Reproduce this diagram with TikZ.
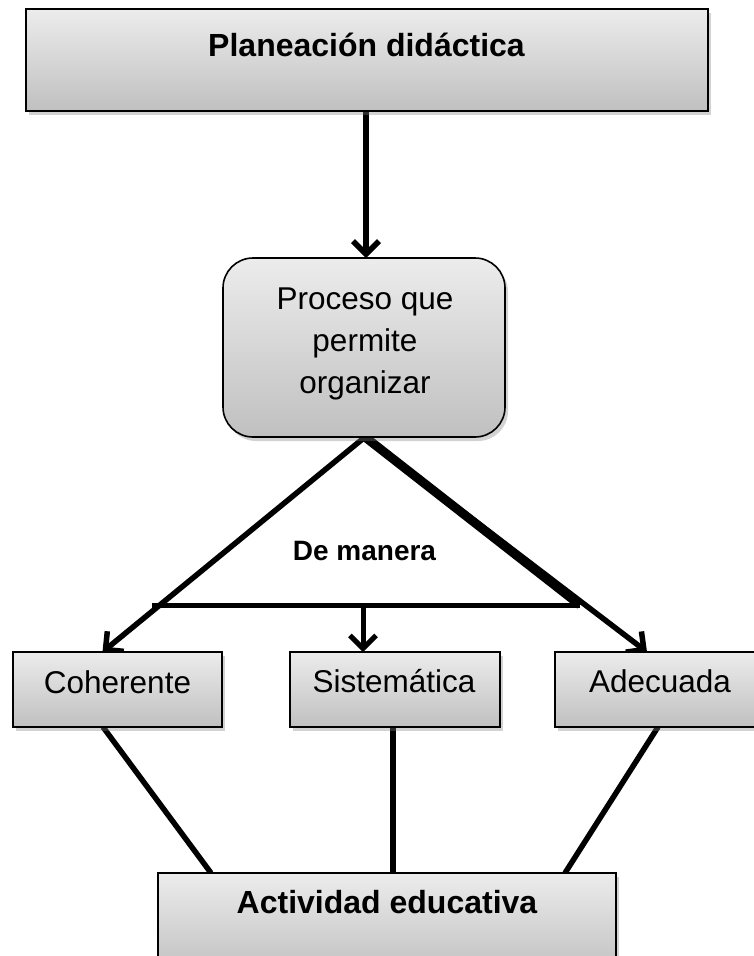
\documentclass[tikz,border=0pt]{standalone}
\usepackage{fontspec}
\setmainfont{Liberation Sans}
\usetikzlibrary{arrows.meta,shadows,calc}
\definecolor{boxtop}{RGB}{236,236,236}
\definecolor{boxbot}{RGB}{192,192,192}
\begin{document}
\begin{tikzpicture}[x=1pt,y=-1pt,
  boxshape/.style={draw=black, line width=1.6pt, top color=boxtop, bottom color=boxbot,
    drop shadow={shadow xshift=3pt, shadow yshift=-4pt, opacity=0.35}, inner sep=0pt},
  lbl/.style={anchor=base, font=\fontsize{31.5}{38}\selectfont, inner sep=0pt},
  blbl/.style={anchor=base, font=\fontsize{32}{38}\selectfont\bfseries, inner sep=0pt},
  conn/.style={line width=5.5pt},
  arr/.style={line width=5.5pt, -{Straight Barb[length=13pt,width=26pt]}}
]
\useasboundingbox (0,0) rectangle (754,956);
\clip (0,0) rectangle (754,956);
\fill[white] (0,0) rectangle (754,956);

\coordinate (ctop) at (367,60);
\coordinate (cproc) at (364,347.5);
\coordinate (apex) at (365,437);
\coordinate (tl) at (152,605);
\coordinate (tr) at (580,605);
\coordinate (mid) at (363,605);
\coordinate (cohN) at (102.5,652);
\coordinate (adeN) at (647,652);
\coordinate (sisN) at (363,652);
\coordinate (topS) at (366,111);
\coordinate (procN) at (366,258);
\coordinate (cohS) at (103,727);
\coordinate (sisS) at (393,727);
\coordinate (adeS) at (658,727);
\coordinate (actA) at (211,873);
\coordinate (actB) at (393,873);
\coordinate (actC) at (565,873);

% connectors
\draw[arr] (topS) -- (procN);
\draw[line width=5pt] (tl) -- (tr);
\draw[line width=9pt] (apex) -- (tr);
\draw[arr] (apex) -- (cohN);
\draw[arr] (apex) -- (adeN);
\draw[arr, line width=5pt] (mid) -- (sisN);
\draw[conn] (cohS) -- (actA);
\draw[conn] (sisS) -- (actB);
\draw[conn] (adeS) -- (actC);

% boxes
\node[boxshape, minimum width=682pt, minimum height=102pt] (top) at (ctop) {};
\node[boxshape, rounded corners=30pt, minimum width=282pt, minimum height=179pt] (proc) at (cproc) {};
\node[boxshape, minimum width=209pt, minimum height=75pt] (coh) at (117.5,689.5) {};
\node[boxshape, minimum width=210pt, minimum height=75pt] (sis) at (395,689.5) {};
\node[boxshape, minimum width=210pt, minimum height=75pt] (ade) at (660,689.5) {};
\node[boxshape, minimum width=458pt, minimum height=102pt] (act) at (387,924) {};

% texts
\node[blbl] (ttop) at (366.5,56) {Planeación didáctica};
\node[lbl] (p1) at (365,309) {Proceso que};
\node[lbl] (p2) at (365,351) {permite};
\node[lbl] (p3) at (365,393) {organizar};
\node[anchor=base, inner sep=0pt, font=\fontsize{28}{34}\selectfont\bfseries] (dm) at (364.5,560) {De manera};
\node[lbl] (tcoh) at (117.5,693) {Coherente};
\node[lbl] (tsis) at (394,692) {Sistemática};
\node[lbl] (tade) at (660,692) {Adecuada};
\node[blbl] (tact) at (387,913) {Actividad educativa};
\end{tikzpicture}
\end{document}
